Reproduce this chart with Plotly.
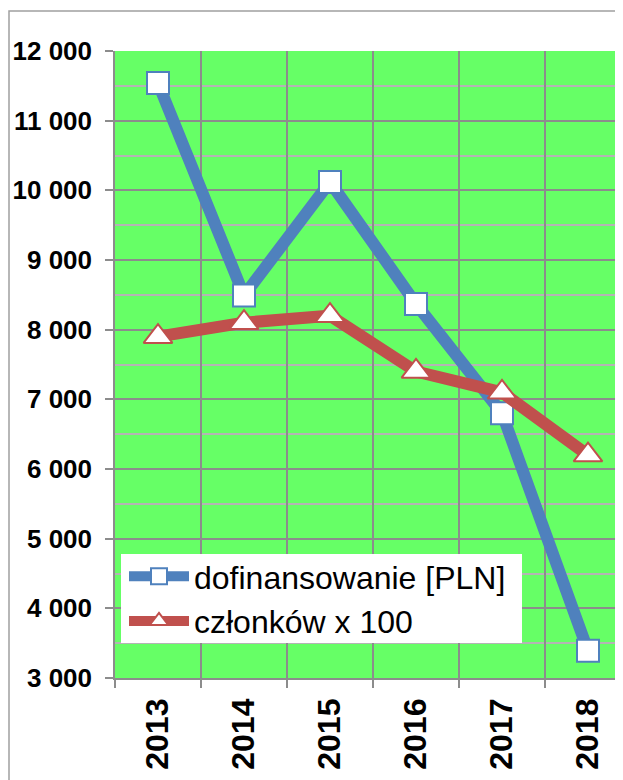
import plotly.graph_objects as go

years = ["2013", "2014", "2015", "2016", "2017", "2018"]
dofinansowanie = [11540, 8490, 10120, 8370, 6800, 3390]
czlonkow_x100 = [7900, 8100, 8200, 7400, 7100, 6200]
y_tickvals = [3000, 4000, 5000, 6000, 7000, 8000, 9000, 10000, 11000, 12000]
y_ticktext = ["3 000", "4 000", "5 000", "6 000", "7 000", "8 000", "9 000", "10 000", "11 000", "12 000"]

BLUE = "#4F81BD"
RED = "#C0504D"
GRID = "#8C8C8C"
FONT = "Liberation Sans, Arial, sans-serif"

OFF = 8  # page body margin
W, H = 623 - OFF, 780 - OFF
ML, MR, MT, MB = 115 - OFF, 0, 51 - OFF, 102
pw = W - ML - MR
ph = H - MT - MB


def px_x(X):
    return (X - OFF - ML) / pw


def px_y(Y):
    return (MT + ph - (Y - OFF)) / ph


fig = go.Figure()
fig.add_trace(go.Scatter(
    x=years, y=dofinansowanie, name="dofinansowanie [PLN]",
    mode="lines+markers",
    line=dict(color=BLUE, width=12),
    marker=dict(symbol="square", size=22, color="white", line=dict(color=BLUE, width=2)),
))
fig.add_trace(go.Scatter(
    x=years, y=czlonkow_x100, name="członków x 100",
    mode="lines+markers",
    line=dict(color=RED, width=12),
    marker=dict(symbol="triangle-up", size=25, color="white", line=dict(color=RED, width=2)),
))

fig.update_layout(
    width=W, height=H, autosize=False,
    margin=dict(l=ML, r=MR, t=MT, b=MB, pad=0, autoexpand=False),
    paper_bgcolor="white",
    plot_bgcolor="#66FF66",
    font=dict(family=FONT, color="black"),
    showlegend=True,
    legend=dict(
        x=px_x(124), y=px_y(549),
        xanchor="left", yanchor="top",
        bgcolor="rgba(0,0,0,0)", borderwidth=0,
        font=dict(size=32, family=FONT, color="black"),
        itemwidth=60,
        tracegroupgap=0,
    ),
    xaxis=dict(
        type="category",
        automargin=False,
        range=[-0.5, 5.5 - 8 / 86],
        tickson="boundaries",
        showgrid=True, gridcolor=GRID, gridwidth=1.5,
        showline=True, linecolor=GRID, linewidth=1.5,
        ticks="outside", ticklen=8, tickcolor=GRID, tickwidth=1.5,
        tickangle=-90,
        tickfont=dict(size=32, family=FONT, color="black", weight="bold"),
        ticklabelstandoff=6,
        zeroline=False,
    ),
    yaxis=dict(
        automargin=False,
        range=[3000, 12000],
        tickvals=y_tickvals, ticktext=y_ticktext,
        showgrid=True, gridcolor=GRID, gridwidth=1.5,
        showline=True, linecolor=GRID, linewidth=1.5,
        ticks="outside", ticklen=8, tickcolor=GRID, tickwidth=1.5,
        tickfont=dict(size=26, family=FONT, color="black", weight="bold"),
        ticklabelstandoff=8,
        zeroline=False,
        minor=dict(dtick=500, tick0=3000, showgrid=True, gridcolor="#B4B4B4", gridwidth=1.5, ticks=""),
    ),
)

# white legend box
fig.add_shape(
    type="rect", xref="paper", yref="paper",
    x0=px_x(121), x1=px_x(522), y0=px_y(643), y1=px_y(554),
    line=dict(width=0), fillcolor="white", layer="above",
)

# outer chart border (right and bottom fall outside the visible area)
fig.add_shape(
    type="rect", xref="paper", yref="paper",
    x0=px_x(OFF + 1), x1=1.3,
    y0=-0.4, y1=px_y(11),
    line=dict(color="#A0A0A0", width=1.5), fillcolor="rgba(0,0,0,0)",
    layer="below",
)

fig.write_html("out.html")
